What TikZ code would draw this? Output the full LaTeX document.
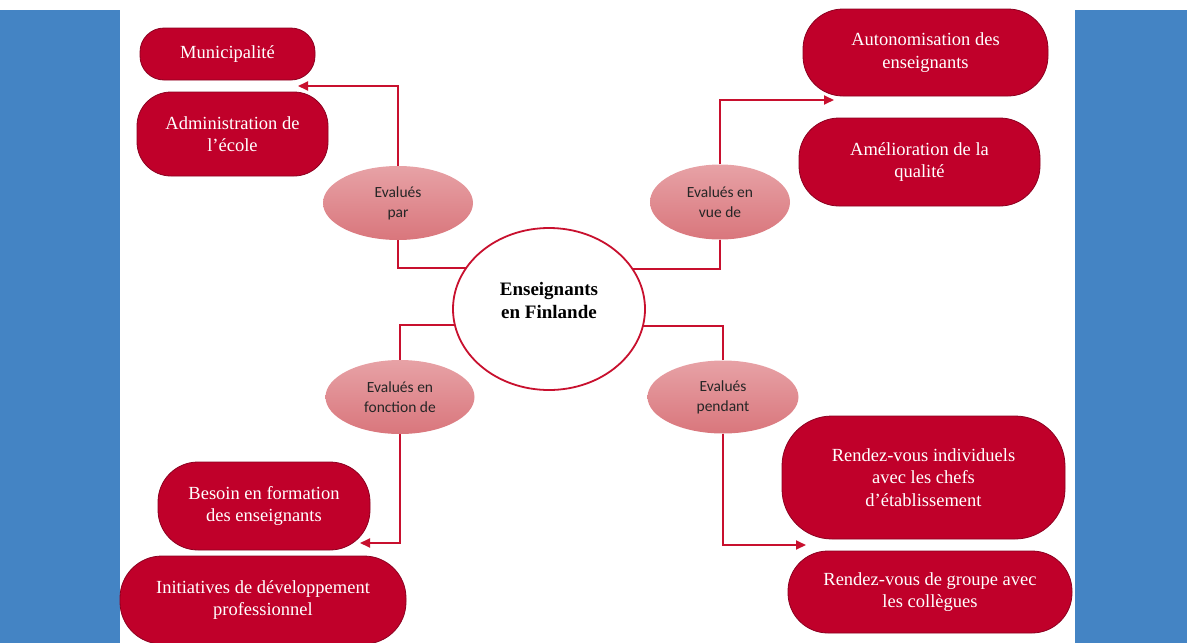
\documentclass[tikz,border=0pt]{standalone}
\usepackage{fontspec}
\setmainfont{Liberation Serif}
\newfontfamily\calib{Carlito}
\usetikzlibrary{arrows.meta,shapes.geometric,calc}
\pgfdeclarelayer{background}
\pgfsetlayers{background,main}
\definecolor{barblue}{RGB}{68,132,196}
\definecolor{boxred}{RGB}{192,0,42}
\definecolor{boxedge}{RGB}{140,0,32}
\definecolor{linered}{RGB}{200,16,46}
\definecolor{elltop}{RGB}{231,162,166}
\definecolor{ellbot}{RGB}{217,118,124}
\begin{document}
\begin{tikzpicture}[x=1pt,y=-1pt,
 redbox/.style={draw=boxedge, line width=0.8pt, fill=boxred, text=white, align=center, inner sep=0pt, font=\fontsize{18.5}{22.5}\selectfont},
 evalell/.style={ellipse, top color=elltop, bottom color=ellbot, draw=none, align=center, inner sep=0pt, font=\calib\fontsize{15.5}{20}\selectfont, text=black!85},
 hub/.style={ellipse, draw=linered, line width=1.8pt, fill=white, inner sep=0pt},
 hubtext/.style={align=center, inner sep=0pt, font=\bfseries\fontsize{19}{23}\selectfont},
 conn/.style={draw=linered, line width=1.8pt},
 arr/.style={conn, -{Triangle[length=10pt,width=9pt]}}
]
\useasboundingbox (0,0) rectangle (1187,643);

% hub
\node[hub, minimum width=192pt, minimum height=162pt] (c) at (549,309) {};
\node[hubtext] (ct) at (549,300) {Enseignants\\en Finlande};

% ellipses
\node[evalell, minimum width=150pt, minimum height=74pt] (ep) at (398,203) {Evalués\\par};
\node[evalell, minimum width=140pt, minimum height=75pt] (ev) at (720,202) {Evalués en\\vue de};
\node[evalell, minimum width=149pt, minimum height=74pt] (ef) at (400,397) {Evalués en\\fonction de};
\node[evalell, minimum width=151pt, minimum height=73pt] (epd) at (723,397) {Evalués\\pendant};

% boxes
\node[redbox, minimum width=175pt, minimum height=52pt, rounded corners=24pt] (mun) at (227.5,54) {Municipalité};
\node[redbox, minimum width=191pt, minimum height=84pt, rounded corners=34pt] (adm) at (232.5,134) {Administration de\\l’école};
\node[redbox, minimum width=245pt, minimum height=87pt, rounded corners=40pt] (aut) at (925.5,52.5) {Autonomisation des\\enseignants};
\node[redbox, minimum width=241pt, minimum height=88pt, rounded corners=40pt] (ame) at (919.5,162) {Amélioration de la\\qualité};
\node[redbox, minimum width=212pt, minimum height=88pt, rounded corners=40pt] (bes) at (264,506) {Besoin en formation\\des enseignants};
\node[redbox, minimum width=286pt, minimum height=88pt, rounded corners=42pt] (ini) at (263,600) {Initiatives de développement\\professionnel};
\node[redbox, minimum width=283pt, minimum height=123pt, rounded corners=50pt] (rvi) at (923.5,477.5) {Rendez-vous individuels\\avec les chefs\\d’établissement};
\node[redbox, minimum width=284pt, minimum height=82pt, rounded corners=40pt] (rvg) at (930,592) {Rendez-vous de groupe avec\\les collègues};

% arrow tips
\coordinate (tMun) at (298,86);
\coordinate (tAut) at (834,100);
\coordinate (tBes) at (360,543);
\coordinate (tRvi) at (806,545);

\begin{pgfonlayer}{background}
\fill[barblue] (0,10) rectangle (120,643);
\fill[barblue] (1075,10) rectangle (1187,643);
\draw[arr] (ep.north) |- (tMun);
\draw[conn] (ep.south) |- ([yshift=41pt]c.center);
\draw[arr] (ev.north) |- (tAut);
\draw[conn] (ev.south) |- ([yshift=40pt]c.center);
\draw[arr] (ef.south) |- (tBes);
\draw[conn] (ef.north) |- ([yshift=-16pt]c.center);
\draw[arr] (epd.south) |- (tRvi);
\draw[conn] (epd.north) |- ([yshift=-17pt]c.center);
\end{pgfonlayer}
\end{tikzpicture}
\end{document}
